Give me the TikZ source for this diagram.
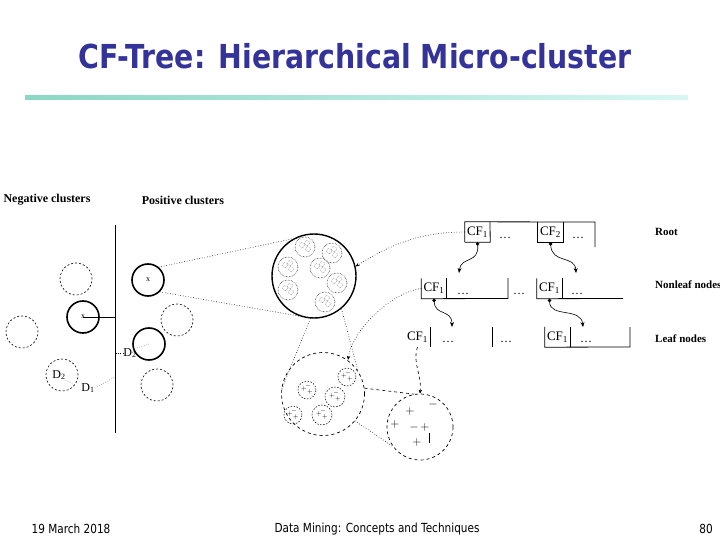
\documentclass[tikz,border=0pt]{standalone}
\usepackage{fontspec}
\setmainfont{Liberation Serif}
\newfontfamily\titlefont[FakeStretch=0.86]{DejaVu Sans}
\newfontfamily\footfont[FakeStretch=0.84]{DejaVu Sans}
\usetikzlibrary{arrows.meta,positioning}
\definecolor{titleblue}{RGB}{51,51,153}
\definecolor{ruleleft}{RGB}{140,215,195}
\definecolor{ruleright}{RGB}{215,247,242}

\begin{document}
\begin{tikzpicture}[x=1pt, y=-1pt,
	thickc/.style={circle, draw, line width=1.6pt, minimum size=32pt, inner sep=0pt},
	dashc/.style={circle, draw, dash pattern=on 2pt off 2pt, line width=0.6pt, minimum size=32pt, inner sep=0pt},
	subc/.style={circle, draw, densely dotted, line width=0.5pt, minimum size=20pt, inner sep=0pt},
	speck/.style={circle, draw, densely dotted, line width=0.3pt, minimum size=5pt, inner sep=0pt},
	lowc/.style={circle, draw, dash pattern=on 1.5pt off 1.5pt, line width=0.5pt, inner sep=0pt},
	zoomline/.style={dotted, line width=0.6pt},
	cell/.style={minimum width=25pt, minimum height=20pt, inner sep=0pt, font=\fontsize{13}{13}\selectfont},
	dots/.style={font=\fontsize{12}{12}\selectfont, inner sep=0pt},
	squig/.style={{Circle[length=3.5pt]}-{Stealth[length=5pt,width=4pt]}, line width=0.6pt},
	head/.style={font=\bfseries\fontsize{12}{13}\selectfont, inner sep=0pt},
	level/.style={font=\bfseries\fontsize{11}{12}\selectfont, anchor=west, inner sep=0pt},
	dlabel/.style={font=\fontsize{12}{12}\selectfont, inner sep=0pt},
	xmark/.style={font=\fontsize{8}{8}\selectfont, inner sep=0pt},
	sign/.style={font=\fontsize{13}{13}\selectfont, inner sep=0pt},
	tinysign/.style={font=\fontsize{6}{6}\selectfont, inner sep=0pt},
	foot/.style={font=\footfont\fontsize{12.5}{13}\selectfont, inner sep=0pt}]

	\useasboundingbox (0,0) rectangle (720,540);
	\fill[white] (0,0) rectangle (720,540);

	% Titolo
	\node[font=\titlefont\bfseries\fontsize{33}{36}\selectfont, text=titleblue] (title) at (355,56) {CF-Tree: Hierarchical Micro-cluster};
	\shade[left color=ruleleft, right color=ruleright] (25,96) rectangle (688,99.5);

	% Cluster negativi e positivi
	\node[head] (neg) at (47,200) {Negative clusters};
	\node[head] (pos) at (183,200) {Positive clusters};
	\coordinate (vtop) at (115,225);
	\coordinate (vbot) at (115,433);
	\draw[line width=0.8pt] (vtop) -- (vbot);

	\node[dashc] (ng1) at (76,279) {};
	\node[thickc] (ng2) at (83,317) {};
	\node[xmark] at (ng2) {x};
	\node[dashc] (ng3) at (22,332) {};
	\node[dashc] (ng4) at (62,375) {};
	\draw[line width=0.6pt] (ng2.center) -- (ng2.center -| vtop);
	\node[dlabel] (d2a) at (59,375) {D\textsubscript{2}};
	\draw[dotted] (d2a.south east) -- (ng4.-40);
	\node[dlabel] (d1a) at (88,388) {D\textsubscript{1}};
	\coordinate (h1) at (115,377);
	\draw[dotted] (d1a.east) -- (h1);

	\node[thickc] (ps1) at (148,280) {};
	\node[xmark] at (ps1) {x};
	\node[dashc] (ps2) at (177,320) {};
	\node[dlabel] (d2b) at (130,353) {D\textsubscript{2}};
	\node[thickc] (ps3) at (149,344) {};
	\node[dashc] (ps4) at (157,385) {};
	\draw[dotted] (ps3.center) -- (d2b.north east);
	\draw[dotted] (d2b.west) -- (d2b.west -| vtop);

	% Micro-cluster ingranditi
	\node[circle, draw, line width=1.4pt, minimum size=84pt, inner sep=0pt] (big) at (314,276) {};
	\foreach \n/\x/\y in {1/305/247, 2/332/253, 3/288/267, 4/320/268, 5/337/283, 6/288/290, 7/325/302} {
		\node[subc] (b\n) at (\x,\y) {};
		\node[speck] at ([shift={(-3pt,2pt)}]b\n.center) {};
		\node[speck] at ([shift={(3pt,-2pt)}]b\n.center) {};
		\node[speck] at ([shift={(2pt,4pt)}]b\n.center) {};
	}
	\draw[zoomline] (ps1.50) -- (big.119);
	\draw[zoomline] (ps1.-45) -- (big.-110);

	\node[lowc, dash pattern=on 3pt off 3pt, line width=0.7pt, minimum size=83pt] (low) at (323,394) {};
	\foreach \n/\x/\y/\r in {1/347/377/18, 2/307/390/18, 3/335/397/20, 4/293/415/18, 5/322/415/20} {
		\node[lowc, minimum size=\r*1pt] (s\n) at (\x,\y) {};
		\node[tinysign] at ([shift={(-3pt,1pt)}]s\n.center) {$+$};
		\node[tinysign] at ([shift={(3pt,-2pt)}]s\n.center) {$+$};
		\node[tinysign] at ([shift={(1pt,4pt)}]s\n.center) {$-$};
	}
	\draw[zoomline] (big.-95) -- (low.175);
	\draw[zoomline] (big.-50) -- (low.33);

	\node[lowc, dash pattern=on 3pt off 3pt, line width=0.7pt, minimum size=66pt] (leaf) at (420,427) {};
	\node[sign] (p1) at (410,411) {$+$};
	\node[sign] (m1) at (433,404) {$-$};
	\node[sign] (p2) at (395,424) {$+$};
	\node[sign] (m2) at (414,427) {$-$};
	\node[sign] (p3) at (425,427) {$+$};
	\node[sign] (p4) at (417,442) {$+$};
	\draw[line width=0.6pt] (429,433) -- (429,443);
	\draw[dashed, line width=0.6pt] (low.8) -- (leaf.100);
	\draw[zoomline] (low.-40) -- (leaf.216);

	% Albero CF: radice
	\node[cell] (r1) at (477.5,232) {CF\textsubscript{1}};
	\node[dots] (rd1) at (505,238) {\dots};
	\node[cell] (r2) at (550.5,232) {CF\textsubscript{2}};
	\node[dots] (rd2) at (578,238) {\dots};
	\draw[line width=0.8pt] (r1.south west) -- (r1.north west) -- (595,222) -- (595,247);
	\draw[line width=0.8pt] (r1.south west) -- (r1.south east) -- (490,222);
	\draw[line width=0.8pt] (r2.north west) |- (r2.south east) -- (r2.north east);

	% Nodi interni
	\node[cell] (n1) at (434,288.5) {CF\textsubscript{1}};
	\node[dots] (nd1) at (463,294) {\dots};
	\node[dots] (nd0) at (519,294) {\dots};
	\node[cell] (n2) at (549.5,288.5) {CF\textsubscript{1}};
	\node[dots] (nd2) at (577,294) {\dots};
	\draw[line width=0.8pt] (n1.north west) -- (n1.south west) -- (508,298.5) -- (508,278);
	\draw[line width=0.8pt] (n1.north east) -- (n1.south east);
	\draw[line width=0.8pt] (n2.north west) -- (n2.south west) -- (623,298.5);
	\draw[line width=0.8pt] (n2.north east) -- (n2.south east);

	% Foglie
	\node[cell] (l1) at (417.5,337) {CF\textsubscript{1}};
	\node[dots] (ld1) at (448,342) {\dots};
	\node[dots] (ld0) at (506,342) {\dots};
	\node[cell] (l2) at (557.5,337) {CF\textsubscript{1}};
	\node[dots] (ld2) at (586,342) {\dots};
	\draw[line width=0.8pt] (l1.north east) -- (l1.south east);
	\draw[line width=0.8pt] (492,327) -- (492,347);
	\draw[line width=0.8pt] (l2.north west) -- (l2.south west) -- (630,347) -- (630,327);
	\draw[line width=0.8pt] (l2.north east) -- (l2.south east);

	\node[level] (lroot) at (655,232) {Root};
	\node[level] (lnon) at (655,285) {Nonleaf nodes};
	\node[level] (lleaf) at (655,339) {Leaf nodes};

	% Frecce tra i livelli
	\coordinate (t1) at (459,273);
	\coordinate (t2) at (576,273);
	\coordinate (t3) at (452,327);
	\coordinate (t4) at (583,327);
	\draw[squig] (r1.south) .. controls (479,264) and (461,256) .. (t1);
	\draw[squig] (r2.south) .. controls (552,264) and (575,255) .. (t2);
	\draw[squig] (n1.south) .. controls (435,316) and (452,309) .. (t3);
	\draw[squig] (n2.south) .. controls (550,318) and (581,307) .. (t4);

	% Collegamenti albero - cluster
	\draw[zoomline, -{Stealth[length=4pt,width=3.5pt]}] (r1.west) .. controls (420,232) and (392,244) .. (big.13);
	\draw[zoomline, -{Stealth[length=4pt,width=3.5pt]}, shorten >=8pt] (n1.west) .. controls (392,292) and (352,330) .. (s1.north);
	\draw[dashed, line width=0.6pt, -{Stealth[length=4pt,width=3.5pt]}] (l1.south) .. controls (412,362) and (422,375) .. (leaf.north);

	% Piè di pagina
	\node[foot] (date) at (71,529) {19 March 2018};
	\node[foot] (course) at (377,529) {Data Mining: Concepts and Techniques};
	\node[foot] (page) at (706,529) {80};
\end{tikzpicture}
\end{document}
